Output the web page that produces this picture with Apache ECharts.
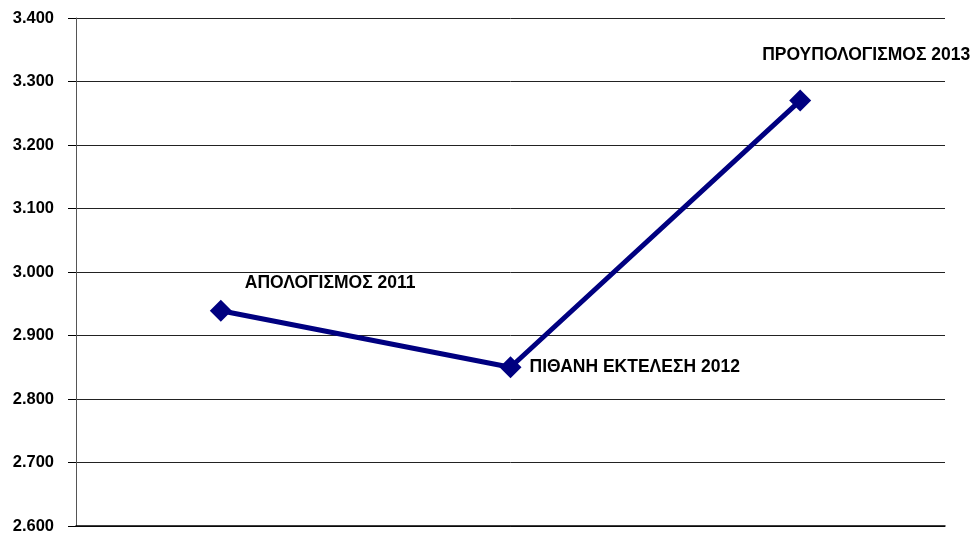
<!DOCTYPE html>
<html><head><meta charset="utf-8">
<script src="https://cdn.jsdelivr.net/npm/echarts@6/dist/echarts.min.js"></script>
<style>html,body{margin:0;padding:0;background:#fff}#c{width:975px;height:535px}</style>
</head><body><div id="c"></div>
<script>
const categories = ['ΑΠΟΛΟΓΙΣΜΟΣ 2011', 'ΠΙΘΑΝΗ ΕΚΤΕΛΕΣΗ 2012', 'ΠΡΟΥΠΟΛΟΓΙΣΜΟΣ 2013'];
const values = [2939, 2850, 3270];
const yMin = 2600, yMax = 3400, yStep = 100;

const labelPlacement = [
  {position: 'right', offset: [8, -28]},
  {position: 'right', offset: [3, 0]},
  {position: 'top', offset: [66, -20]}
];

const chart = echarts.init(document.getElementById('c'));
chart.setOption({
  animation: false,
  grid: {left: 76, right: 30, top: 18, bottom: 9},
  xAxis: {
    type: 'category', data: categories, boundaryGap: true,
    axisLine: {show: true, lineStyle: {color: '#000', width: 1.5}},
    axisTick: {show: false}, axisLabel: {show: false}
  },
  yAxis: {
    type: 'value', min: yMin, max: yMax, interval: yStep,
    axisLine: {show: true, lineStyle: {color: '#555', width: 1}},
    axisTick: {show: true, length: 8, lineStyle: {color: '#000'}},
    axisLabel: {
      margin: 22, color: '#000', fontWeight: 'bold', fontSize: 16.5,
      fontFamily: 'Liberation Sans, Arial, sans-serif',
      formatter: v => String(v).replace(/\B(?=(\d{3})+(?!\d))/g, '.')
    },
    splitLine: {show: true, lineStyle: {color: '#222', width: 1}}
  },
  series: [{
    type: 'line',
    data: values.map((v, i) => ({
      value: v,
      label: {show: true, position: labelPlacement[i].position, offset: labelPlacement[i].offset,
        formatter: categories[i]}
    })),
    lineStyle: {color: '#000080', width: 5},
    itemStyle: {color: '#000080'},
    symbol: 'diamond', symbolSize: 22,
    label: {
      color: '#000', fontWeight: 'bold', fontSize: 17.5,
      fontFamily: 'Liberation Sans, Arial, sans-serif'
    }
  }]
});
</script></body></html>
